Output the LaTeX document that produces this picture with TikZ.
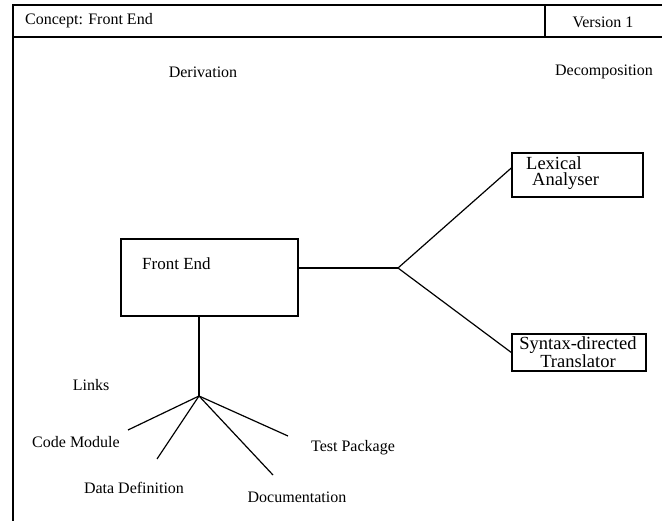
\documentclass[tikz,border=0pt]{standalone}
\usepackage{fontspec}
\setmainfont{Liberation Serif}
\begin{document}
\begin{tikzpicture}[x=1pt,y=-1pt,
  frame/.style={line width=1.4pt},
  box/.style={draw,line width=1.4pt,rectangle,inner sep=0pt},
  conn/.style={line width=1.2pt},
  lbl/.style={font=\fontsize{16}{17}\selectfont,inner sep=0pt},
  boxlbl/.style={font=\fontsize{18.5}{16.5}\selectfont,inner sep=0pt}]
\useasboundingbox (0,0) rectangle (662,521);
% frame
\draw[frame] (662,5) -- (13,5) -- (13,521);
\draw[frame] (13,37) -- (662,37);
\draw[frame] (545,5) -- (545,37);
\node[lbl,anchor=west] (title) at (25,21) {Concept: Front End};
\node[lbl] (ver) at (603,22) {Version 1};
\node[lbl] (der) at (203,72) {Derivation};
\node[lbl] (dec) at (604,72) {Decomposition};
% boxes
\node[box,minimum width=177pt,minimum height=77pt] (fe) at (209.5,277.5) {};
\node[lbl,font=\fontsize{17}{18}\selectfont,anchor=west] (fet) at (142,264) {Front End};
\node[box,minimum width=131pt,minimum height=44pt] (lex) at (577.5,175) {};
\node[boxlbl,anchor=west,align=left] (lext) at (526,173) {Lexical\\\hspace*{6pt}Analyser};
\node[box,minimum width=134pt,minimum height=37pt] (syn) at (579,352.5) {};
\node[boxlbl,align=center] (synt) at (578,352) {Syntax-directed\\Translator};
% decomposition connectors
\coordinate (j1) at (398,268);
\draw[conn] (j1 -| fe.east) -- (j1);
\draw[conn] (j1) -- ([yshift=7pt]lex.west);
\draw[conn] (j1) -- (syn.west);
% derivation connectors
\coordinate (j2) at (199,396);
\draw[conn] (j2 |- fe.south) -- (j2);
\coordinate (cm) at (128,430);
\coordinate (dd) at (157,459);
\coordinate (doc) at (273,475);
\coordinate (tp) at (288,436);
\draw[conn] (j2) -- (cm);
\draw[conn] (j2) -- (dd);
\draw[conn] (j2) -- (doc);
\draw[conn] (j2) -- (tp);
\node[lbl] (links) at (91,385) {Links};
\node[lbl] (cml) at (76,442) {Code Module};
\node[lbl] (ddl) at (134,488) {Data Definition};
\node[lbl] (docl) at (297,497) {Documentation};
\node[lbl] (tpl) at (353,448) {Test Package};
\end{tikzpicture}
\end{document}
